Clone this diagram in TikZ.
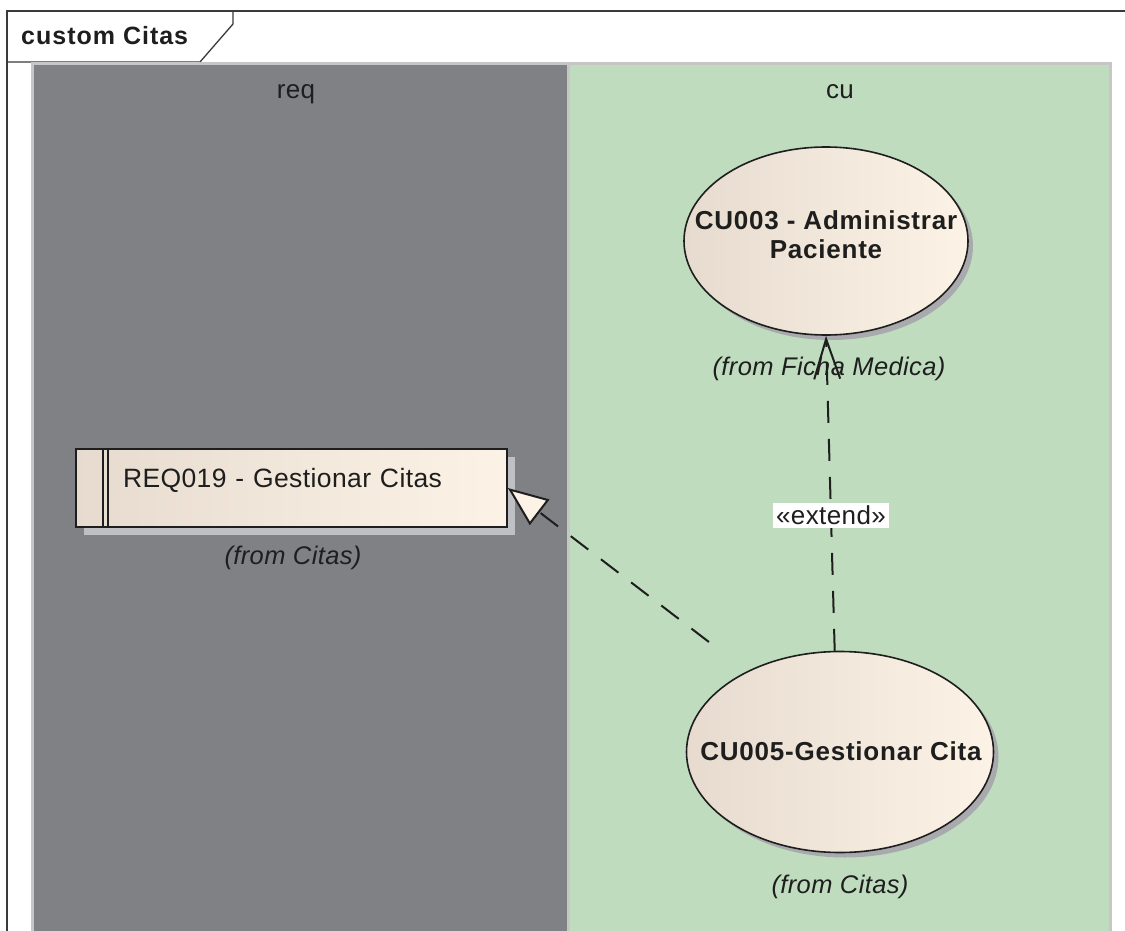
\documentclass[tikz,border=0pt]{standalone}
\usepackage{fontspec}
\setmainfont{Liberation Sans}
\newfontfamily\regfont[LetterSpace=1.5]{Liberation Sans}
\newfontfamily\boldfont[LetterSpace=3]{Liberation Sans}
\newfontfamily\titlefont[LetterSpace=4]{Liberation Sans}
\usetikzlibrary{arrows.meta,shapes.geometric,shadows}
\definecolor{lanegray}{HTML}{808185}
\definecolor{lanegreen}{HTML}{BFDCBF}
\definecolor{laneborder}{HTML}{C6C6C6}
\definecolor{creamL}{HTML}{E6DBCE}
\definecolor{creamR}{HTML}{FCF3E6}
\definecolor{shadegray}{HTML}{A9AAAD}
\definecolor{boxshade}{HTML}{BFC0C4}
\definecolor{ink}{HTML}{1E1E1E}
\definecolor{framegray}{HTML}{3A3A3A}
\tikzset{
  usecase/.style={ellipse, draw=ink, line width=1.6pt, left color=creamL, right color=creamR,
    drop shadow={shadow xshift=5pt, shadow yshift=-5pt, fill=shadegray, opacity=1},
    inner sep=0pt},
  uctext/.style={font=\boldfont\fontsize{26}{29}\selectfont\bfseries, align=center, inner sep=0pt, text=ink},
  reqbox/.style={rectangle, draw=ink, line width=1.8pt, left color=creamL, right color=creamR,
    drop shadow={shadow xshift=8pt, shadow yshift=-8pt, fill=boxshade, opacity=1},
    font=\regfont\fontsize{26.5}{30}\selectfont, text=ink, inner xsep=47pt, inner ysep=0pt,
    text width=337pt, align=left, text height=38pt, text depth=40pt},
  fromlbl/.style={font=\regfont\fontsize{25.5}{29}\selectfont\itshape, text=ink, inner sep=0pt},
  lanelbl/.style={font=\regfont\fontsize{26}{30}\selectfont, text=ink, inner sep=0pt, anchor=base},
  conn/.style={draw=ink, line width=2pt, dash pattern=on 22pt off 16pt},
}
\begin{document}
\begin{tikzpicture}[x=1pt,y=-1pt]
\useasboundingbox (0,0) rectangle (1125,931);
\fill[white] (0,0) rectangle (1125,931);
% frame
\draw[framegray, line width=1.3pt] (7,931) -- (7,11) -- (1125,11);
\draw[framegray, line width=1.3pt] (7,62) -- (200,62) -- (233,24) -- (233,11);
\node[anchor=base west, font=\titlefont\fontsize{25}{28}\selectfont\bfseries, text=ink, inner sep=0pt] (title) at (21,45) {custom Citas};
% lanes
\fill[laneborder] (31,62) rectangle (1112,931);
\fill[lanegray] (34,65) rectangle (567,931);
\fill[lanegreen] (570,65) rectangle (1109,931);
\node[lanelbl] (lreq) at (296,99) {req};
\node[lanelbl] (lcu) at (840,99) {cu};
% requirement
\node[reqbox, minimum width=431pt, minimum height=78pt] (req) at (291.5,488) {REQ019 - Gestionar Citas};
\draw[ink, line width=1.5pt] (103,449) -- (103,527) (108,449) -- (108,527);
\node[fromlbl] (reqfrom) at (293,558) {(from Citas)};
% use cases
\node[usecase, minimum width=284pt, minimum height=188pt] (cu3) at (826,241) {};
\node[uctext] (cu3t) at (826,235) {CU003 - Administrar\\Paciente};
\node[fromlbl] (cu3from) at (829,369) {(from Ficha Medica)};
\node[usecase, minimum width=307pt, minimum height=201pt] (cu5) at (840,752) {};
\node[uctext] (cu5t) at (841,751) {CU005-Gestionar Cita};
\node[fromlbl] (cu5from) at (840,887) {(from Citas)};
% connectors
\draw[conn, shorten <=48pt, -{Triangle[length=40pt,width=32pt,fill=creamR]}] (cu5.139) -- (req.east);
\draw[conn, -{Straight Barb[length=40pt,width=26pt]}] (cu5.93) -- (cu3.270)
  node[pos=0.43, fill=white, inner xsep=3pt, inner ysep=3pt, font=\regfont\fontsize{26}{30}\selectfont, text=ink] (ext) {«extend»};
\end{tikzpicture}
\end{document}
